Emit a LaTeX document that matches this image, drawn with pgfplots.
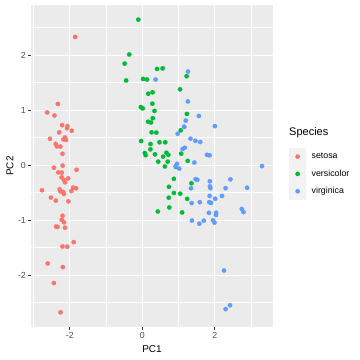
\documentclass[border=0pt]{standalone}
\usepackage{fontspec}
\setmainfont{Liberation Sans}
\usepackage{pgfplots}
\pgfplotsset{compat=1.18}
\definecolor{panelbg}{HTML}{EBEBEB}
\definecolor{keybg}{HTML}{F2F2F2}
\definecolor{ticklab}{HTML}{4D4D4D}
\definecolor{tickcol}{HTML}{333333}
\definecolor{cset}{HTML}{F8766D}
\definecolor{cver}{HTML}{00BA38}
\definecolor{cvir}{HTML}{619CFF}
\pgfplotsset{ggkey/.style={legend image code/.code={
  \fill[keybg, draw=none] (0bp,-8.64bp) rectangle (17.28bp,8.64bp);
  \path[draw=none, fill=none] (17.28bp,-0.1bp) rectangle (22.7bp,0.1bp);
  \draw[##1, only marks] plot coordinates {(8.64bp,0bp)};
}}}
\begin{document}
\begin{tikzpicture}
\useasboundingbox (-31bp,-33bp) rectangle (329bp,327bp);
\begin{axis}[
  at={(0,0)}, anchor=south west,
  scale only axis, width=242bp, height=322bp,
  xmin=-3.0683, xmax=3.6029, ymin=-2.9434, ymax=2.9113,
  axis background/.style={fill=panelbg},
  axis line style={draw=none},
  xtick={-2,0,2}, xticklabels={-2,0,2},
  ytick={-2,-1,0,1,2}, yticklabels={-2,-1,0,1,2},
  minor xtick={-3,-1,1,3},
  minor ytick={-2.5,-1.5,-0.5,0.5,1.5,2.5},
  grid=both,
  major grid style={white, line width=1.07bp},
  minor grid style={white, line width=0.53bp},
  tick align=outside,
  xtick pos=bottom, ytick pos=left,
  major tick length=2.75bp, minor tick length=0pt,
  tick style={tickcol, line width=1.07bp},
  ticklabel style={font=\fontsize{8.8bp}{10bp}\selectfont, text=ticklab},
  xticklabel style={inner sep=0pt, anchor=north},
  yticklabel style={inner sep=0pt, anchor=east},
  xticklabel shift=2.2bp, yticklabel shift=2.2bp,
  xlabel={PC1}, ylabel={PC2},
  label style={font=\fontsize{11bp}{13bp}\selectfont},
  every axis x label/.style={at={(axis description cs:0.5,-0.0683)}, anchor=center},
  every axis y label/.style={at={(axis description cs:-0.0868,0.5)}, rotate=90, anchor=center},
  legend style={at={(axis description cs:1.0661,0.5559)}, anchor=north west,
    draw=none, fill=none, inner sep=0pt, outer sep=0pt, row sep=0pt, column sep=0pt,
    nodes={inner sep=0pt, anchor=west},
    font=\fontsize{8.8bp}{10bp}\selectfont},
  legend cell align=left,
]
\addplot[only marks, mark=*, mark size=2.2bp, color=cset, mark options={line width=0.2bp}, ggkey] coordinates {
(-2.257,-0.478) (-2.074,0.672) (-2.356,0.341) (-2.292,0.595) (-2.382,-0.645)
(-2.069,-1.484) (-2.436,-0.047) (-2.225,-0.222) (-2.327,1.112) (-2.177,0.467)
(-2.159,-1.040) (-2.318,-0.133) (-2.211,0.726) (-2.624,0.958) (-2.191,-1.854)
(-2.255,-2.677) (-2.200,-1.479) (-2.183,-0.487) (-1.892,-1.400) (-2.336,-1.124)
(-1.908,-0.407) (-2.200,-0.921) (-2.765,-0.457) (-1.813,-0.085) (-2.220,-0.137)
(-1.945,0.624) (-2.044,-0.241) (-2.161,-0.525) (-2.132,-0.312) (-2.258,0.337)
(-2.133,0.503) (-1.825,-0.422) (-2.606,-1.788) (-2.438,-2.144) (-2.103,0.459)
(-2.200,0.205) (-2.038,-0.659) (-2.519,-0.590) (-2.422,0.901) (-2.162,-0.268)
(-2.279,-0.440) (-1.852,2.330) (-2.545,0.478) (-1.958,-0.471) (-2.130,-1.138)
(-2.063,0.709) (-2.377,-1.117) (-2.386,0.385) (-2.222,-0.995) (-2.196,-0.009)
};
\addlegendentry{setosa}
\addplot[only marks, mark=*, mark size=2.2bp, color=cver, mark options={line width=0.2bp}, ggkey] coordinates {
(1.098,-0.860) (0.729,-0.593) (1.237,-0.614) (0.406,1.749) (1.072,0.208)
(0.387,0.591) (0.744,-0.770) (-0.486,1.846) (0.925,-0.032) (0.011,1.031)
(-0.110,2.645) (0.439,0.063) (0.560,1.759) (0.717,0.186) (-0.033,0.438)
(0.872,-0.507) (0.349,0.196) (0.158,0.789) (1.221,1.617) (0.164,1.298)
(0.735,-0.395) (0.475,0.416) (1.230,0.930) (0.631,0.415) (0.700,0.063)
(0.871,-0.250) (1.252,0.077) (1.354,-0.330) (0.663,0.225) (-0.040,1.055)
(0.130,1.557) (0.023,1.567) (0.241,0.775) (1.058,0.632) (0.223,0.287)
(0.428,-0.843) (1.045,-0.520) (1.041,1.378) (0.069,0.219) (0.283,1.325)
(0.278,1.116) (0.622,-0.025) (0.335,0.985) (-0.361,2.012) (0.288,0.853)
(0.091,0.181) (0.227,0.384) (0.574,0.154) (-0.446,1.539) (0.256,0.597)
};
\addlegendentry{versicolor}
\addplot[only marks, mark=*, mark size=2.2bp, color=cvir, mark options={line width=0.2bp}, ggkey] coordinates {
(1.838,-0.868) (1.154,0.697) (2.198,-0.560) (1.435,0.047) (1.862,-0.294)
(2.743,-0.798) (0.366,1.556) (2.295,-0.419) (2.000,0.709) (2.252,-1.915)
(1.360,-0.690) (1.597,0.420) (1.878,-0.418) (1.256,1.158) (1.463,0.441)
(1.585,-0.674) (1.467,-0.255) (2.418,-2.548) (3.300,-0.018) (1.260,1.701)
(2.031,-0.907) (0.975,0.570) (2.888,-0.412) (1.329,0.480) (1.695,-1.011)
(1.948,-1.004) (1.171,0.315) (1.018,-0.064) (1.782,0.187) (1.857,-0.560)
(2.428,-0.258) (2.297,-2.618) (1.856,0.178) (1.110,0.292) (1.198,0.809)
(2.789,-0.854) (1.571,-1.065) (1.342,-0.421) (0.922,-0.017) (1.846,-0.674)
(2.008,-0.612) (1.895,-0.687) (1.154,0.697) (2.034,-0.865) (1.991,-1.046)
(1.864,-0.386) (1.559,0.894) (1.516,-0.268) (1.368,-1.008) (0.957,0.024)
};
\addlegendentry{virginica}
\end{axis}
\node[anchor=west, inner sep=0pt, font=\fontsize{11bp}{13bp}\selectfont] at (258bp,194bp) {Species};
\end{tikzpicture}
\end{document}
